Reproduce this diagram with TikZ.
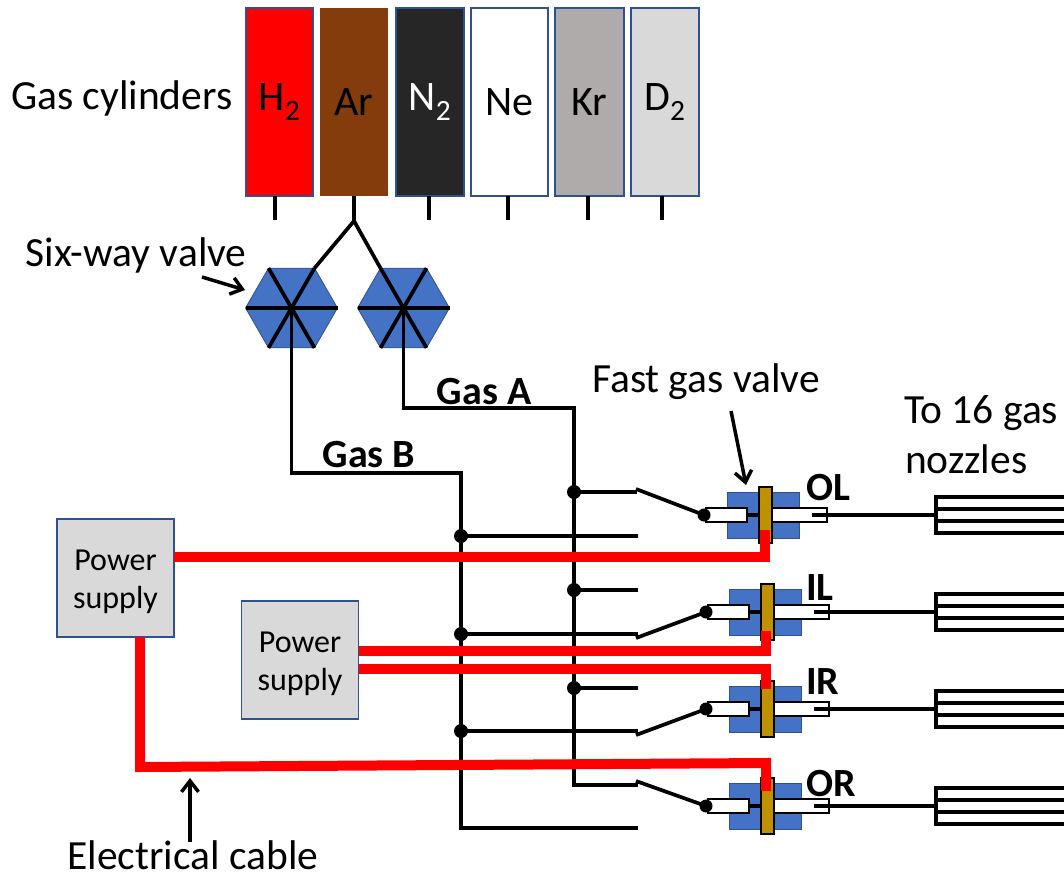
\documentclass[tikz,border=0pt]{standalone}
\usepackage{fontspec}
\setmainfont{Carlito}
\usetikzlibrary{shapes.geometric,arrows.meta}
\definecolor{bluefill}{HTML}{4472C4}
\definecolor{blueedge}{HTML}{2F528F}
\definecolor{goldfill}{HTML}{BF9000}
\definecolor{greyfill}{HTML}{D9D9D9}
\definecolor{arfill}{HTML}{843C0C}
\definecolor{nfill}{HTML}{262626}
\definecolor{krfill}{HTML}{AFABAB}
\tikzset{
  every node/.style={inner sep=0pt,outer sep=0pt},
  cyl/.style={draw=blueedge,line width=1.5pt,minimum height=188pt,font=\fontsize{42}{42}\selectfont},
  psu/.style={draw=blueedge,line width=1.2pt,fill=greyfill,minimum width=117pt,minimum height=118pt,align=center,font=\fontsize{32}{38}\selectfont},
  hexa/.style={regular polygon,regular polygon sides=6,minimum size=92pt,fill=bluefill,draw=blueedge,line width=.8pt},
  pipe/.style={draw=black,line width=3.7pt},
  cable/.style={draw=red,line width=10pt,line join=miter},
  lab/.style={font=\fontsize{41.5}{48}\selectfont},
  bold/.style={font=\fontsize{40}{44}\selectfont\bfseries},
  tube/.style={draw=black,line width=2pt,fill=white,minimum height=14pt},
  arr/.style={draw=black,line width=3.5pt,-{Straight Barb[length=11pt,width=17pt,line width=3.5pt]}},
  dot/.style={circle,fill=black,minimum size=13pt},
  jdot/.style={circle,fill=black,minimum size=14pt}
}
\newcommand{\valveunit}[3]{%
  \node[fill=bluefill,draw=blueedge,line width=.8pt,minimum width=72pt,minimum height=46pt] (#1blue) at (763+#2,#3) {};
  \node[tube,minimum width=41pt,anchor=west] (#1tl) at (706+#2,#3) {};
  \node[tube,minimum width=55pt,anchor=west] (#1tr) at (772+#2,#3) {};
  \draw[pipe] (#1tl.east) -- (759+#2,#3);
  \node[draw=black,line width=2pt,fill=goldfill,minimum width=13pt,minimum height=56pt] (#1gold) at (765.5+#2,#3) {};
  \node[dot] (#1dot) at (704+#2,#3) {};
  \coordinate (#1out) at (812+#2,#3);
  \coordinate (#1noz) at (936,#3);
  \draw[pipe] (#1out) -- (#1noz);
  \draw[pipe,line cap=rect] (936,#3-18) -- (936,#3+18);
  \foreach \d in {-18,-6,6,18} \draw[pipe] (936,#3+\d) -- (1064,#3+\d);
}
\begin{document}
\begin{tikzpicture}[x=1pt,y=-1pt]
\useasboundingbox (0,0) rectangle (1064,875);
% cylinders
\node[cyl,fill=red,minimum width=67pt] (h2) at (279.5,102) {H$_{\scriptstyle\mathrm{2}}$};
\node[cyl,draw=none,fill=arfill,minimum width=68pt] (ar) at (354,102) {Ar};
\node[cyl,fill=nfill,text=white,minimum width=68pt] (n2) at (430,102) {N$_{\scriptstyle\mathrm{2}}$};
\node[cyl,fill=white,minimum width=77pt] (ne) at (509.5,102) {Ne};
\node[cyl,fill=krfill,minimum width=69pt] (kr) at (589.5,102) {Kr};
\node[cyl,fill=greyfill,minimum width=68pt] (d2) at (665,102) {D$_{\scriptstyle\mathrm{2}}$};
\foreach \n/\x in {h2/275,n2/429,ne/508,kr/588,d2/662}
  \draw[pipe] (\x,196) -- (\x,220);
\coordinate (fork) at (354,221);
\draw[pipe] (ar.south) -- (fork);
% text
\node[lab,anchor=west] (tcyl) at (11,98) {Gas cylinders};
\node[lab] (tsix) at (136,255) {Six-way valve};
\node[lab] (tfast) at (706,382) {Fast gas valve};
\node[lab,anchor=base west] (tto) at (904,423) {To 16 gas};
\node[lab,anchor=base west] (tnoz) at (905,473) {nozzles};
\node[lab,anchor=base] (telec) at (193,869) {Electrical cable};
\node[bold] (ga) at (484,392) {Gas A};
\node[bold] (gb) at (369,455) {Gas B};
% hexagons
\node[hexa] (hA) at (291.5,308) {};
\node[hexa] (hB) at (403.5,308) {};
\foreach \h in {hA,hB}{
  \draw[pipe] (\h.corner 1) -- (\h.corner 4);
  \draw[pipe] (\h.corner 2) -- (\h.corner 5);
  \draw[pipe] (\h.corner 3) -- (\h.corner 6);
}
\draw[pipe] (fork) -- (hA.corner 1);
\draw[pipe] (fork) -- (hB.corner 2);
% gas lines
\coordinate (bA) at (574,408);
\coordinate (bB) at (461,473);
\coordinate (endA) at (638,785);
\coordinate (endB) at (638,828);
\draw[pipe] (hB.center) |- (bA) -- (574,785) -- (endA);
\draw[pipe] (hA.center) |- (bB) -- (461,828) -- (endB);
\foreach \n/\y/\c/\e in {a1/492/574/637,a2/590/574/638,a3/688/574/638,b1/536/461/638,b2/634/461/638,b3/731/461/638}{
  \node[jdot] (\n) at (\c,\y) {};
  \draw[pipe] (\n.center) -- (\e,\y);
}
% valve units
\valveunit{ol}{0}{515}
\valveunit{il}{2}{612}
\valveunit{ir}{2}{709}
\valveunit{or}{2}{806}
% switches
\coordinate (sol) at (636,489);
\coordinate (sil) at (636,638);
\coordinate (sir) at (636,735);
\coordinate (sor) at (636,781);
\foreach \n in {ol,il,ir,or} \draw[pipe] (s\n) -- (\n dot.center);
% power supplies
\node[psu,text depth=0pt] (ps1) at (115.5,578) {\raisebox{-3pt}{Power}\\\raisebox{-3pt}{supply}};
\node[psu,text depth=0pt] (ps2) at (300,660) {\raisebox{-3pt}{Power}\\\raisebox{-3pt}{supply}};
% cables
\draw[cable] (ps1.east |- 0,557) -- (765,557) -- (765,530);
\draw[cable] (ps2.east |- 0,650.5) -- (766,650.5) -- (766,631);
\draw[cable] (ps2.east |- 0,669) -- (766,669) -- (766,689);
\draw[cable] (140,637) -- (140,767) -- (766,763) -- (766,791);
% arrows
\coordinate (a1s) at (202,277);
\coordinate (a1e) at (245,290);
\coordinate (a2s) at (731,411);
\coordinate (a2e) at (746,485);
\coordinate (a3s) at (190,842);
\coordinate (a3e) at (190,778);
\draw[arr] (a1s) -- (a1e);
\draw[arr] (a2s) -- (a2e);
\draw[arr] (a3s) -- (a3e);
% labels
\node[bold,anchor=west] (lol) at (806,488) {OL};
\node[bold,anchor=west] (lil) at (806,588) {IL};
\node[bold,anchor=west] (lir) at (806,682) {IR};
\node[bold,anchor=west] (lor) at (806,784) {OR};
\end{tikzpicture}
\end{document}
